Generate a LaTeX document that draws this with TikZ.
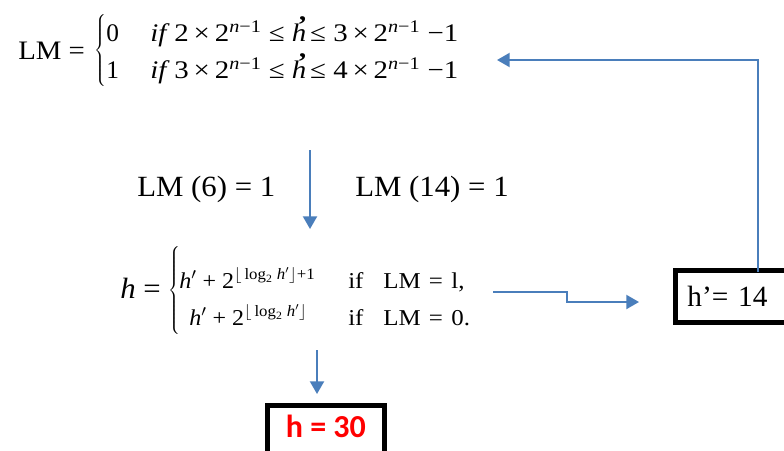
\documentclass[tikz,border=0pt]{standalone}
\usepackage{fontspec}
\usepackage{graphicx}
\setmainfont{Liberation Serif}
\newfontfamily\calibri{Carlito}
\usetikzlibrary{arrows.meta}
\definecolor{arrowblue}{RGB}{74,126,187}
\definecolor{hred}{RGB}{255,0,0}
\newcommand{\tick}{\kern-0.3em\raisebox{0.3em}{\textbf{\char"0027}}\kern0.1em}
\newcommand{\hp}{\textit{h}$^{\prime}$}
\newcommand{\xs}[2]{\scalebox{#1}[1]{#2}}
\tikzset{
  conn/.style={draw=arrowblue, line width=1.5pt, -{Triangle[length=9.5pt,width=10.5pt]}},
  boxed/.style={draw=black, line width=3.6pt},
  lbl/.style={anchor=base west, inner sep=0pt},
}
\begin{document}
\begin{tikzpicture}[x=0.75pt,y=-0.75pt]
\clip (0,0) rectangle (784,450);
\fill[white] (0,0) rectangle (784,450);
% top equation
\node[lbl, font=\fontsize{20}{24}\selectfont] (lmeq) at (18,59) {\xs{1.08}{LM =}};
\node[inner sep=0pt] (topbrace) at (101,52) {$\left\{\rule[-27pt]{0pt}{56pt}\right.$};
\node[lbl, font=\fontsize{19}{23}\selectfont] (r1a) at (106,41) {0};
\node[lbl, font=\fontsize{19}{23}\selectfont] (r1b) at (150,41) {\xs{1.14}{\textit{if}\,2\,×\,2\textsuperscript{\textit{n}−1} ≤ \textit{h}\tick ≤ 3\,×\,2\textsuperscript{\textit{n}−1} −1}};
\node[lbl, font=\fontsize{19}{23}\selectfont] (r2a) at (106,78) {1};
\node[lbl, font=\fontsize{19}{23}\selectfont] (r2b) at (150,78) {\xs{1.14}{\textit{if}\,3\,×\,2\textsuperscript{\textit{n}−1} ≤ \textit{h}\tick ≤ 4\,×\,2\textsuperscript{\textit{n}−1} −1}};
% middle labels
\node[lbl, font=\fontsize{22}{26}\selectfont] (lm6) at (137,196) {\xs{1.05}{LM (6) = 1}};
\node[lbl, font=\fontsize{22}{26}\selectfont] (lm14) at (355,196) {\xs{1.05}{LM (14) = 1}};
\coordinate (downstart) at (310,150);
\coordinate (downend) at (310,229);
\draw[conn] (downstart) -- (downend);
% h equation
\node[lbl, font=\fontsize{22}{26}\selectfont] (heq) at (120,298) {\xs{1.05}{\textit{h} =}};
\node[inner sep=0pt] (hbrace) at (175,292) {$\left\{\rule[-33pt]{0pt}{66pt}\right.$};
\node[lbl, font=\fontsize{17}{20}\selectfont] (h1a) at (179,288) {\xs{1.06}{\hp\ + 2\textsuperscript{$\lfloor$\,log\textsubscript{2} \textit{h}$^{\prime}$$\rfloor$+1}}};
\node[lbl, font=\fontsize{17}{20}\selectfont] (h1b) at (348,288) {\xs{1.1}{if}};
\node[lbl, font=\fontsize{17}{20}\selectfont] (h1c) at (383,288) {\xs{1.1}{LM\,\,=\,\,l,}};
\node[lbl, font=\fontsize{17}{20}\selectfont] (h2a) at (189,325) {\xs{1.06}{\hp\ + 2\textsuperscript{$\lfloor$\,log\textsubscript{2} \textit{h}$^{\prime}$$\rfloor$}}};
\node[lbl, font=\fontsize{17}{20}\selectfont] (h2b) at (348,325) {\xs{1.1}{if}};
\node[lbl, font=\fontsize{17}{20}\selectfont] (h2c) at (383,325) {\xs{1.1}{LM\,\,=\,\,0.}};
% h' box
\node[boxed, anchor=north west, text width=100pt, inner xsep=9pt, inner ysep=0pt,
      minimum height=39pt, align=left, font=\fontsize{22}{26}\selectfont] (hpbox) at (673,268) {h’= 14};
\coordinate (hout) at (493,292);
\coordinate (hin) at (639,302);
\draw[conn] (hout) -- (567,292) -- (567,302) -- (hin);
\coordinate (ret) at (497,60);
\draw[conn] ([shift={(85,4)}]hpbox.north west) |- (ret);
% h = 30
\coordinate (h30start) at (317,350);
\node[boxed, anchor=north west, minimum width=87.75pt, inner xsep=0pt, inner ysep=7pt, text depth=30pt,
      font=\calibri\bfseries\fontsize{24}{28}\selectfont, text=hred] (h30) at (265,403) {h = 30};
\draw[conn, shorten >=6.75pt] (h30start) -- (h30start |- h30.north);
\end{tikzpicture}
\end{document}
